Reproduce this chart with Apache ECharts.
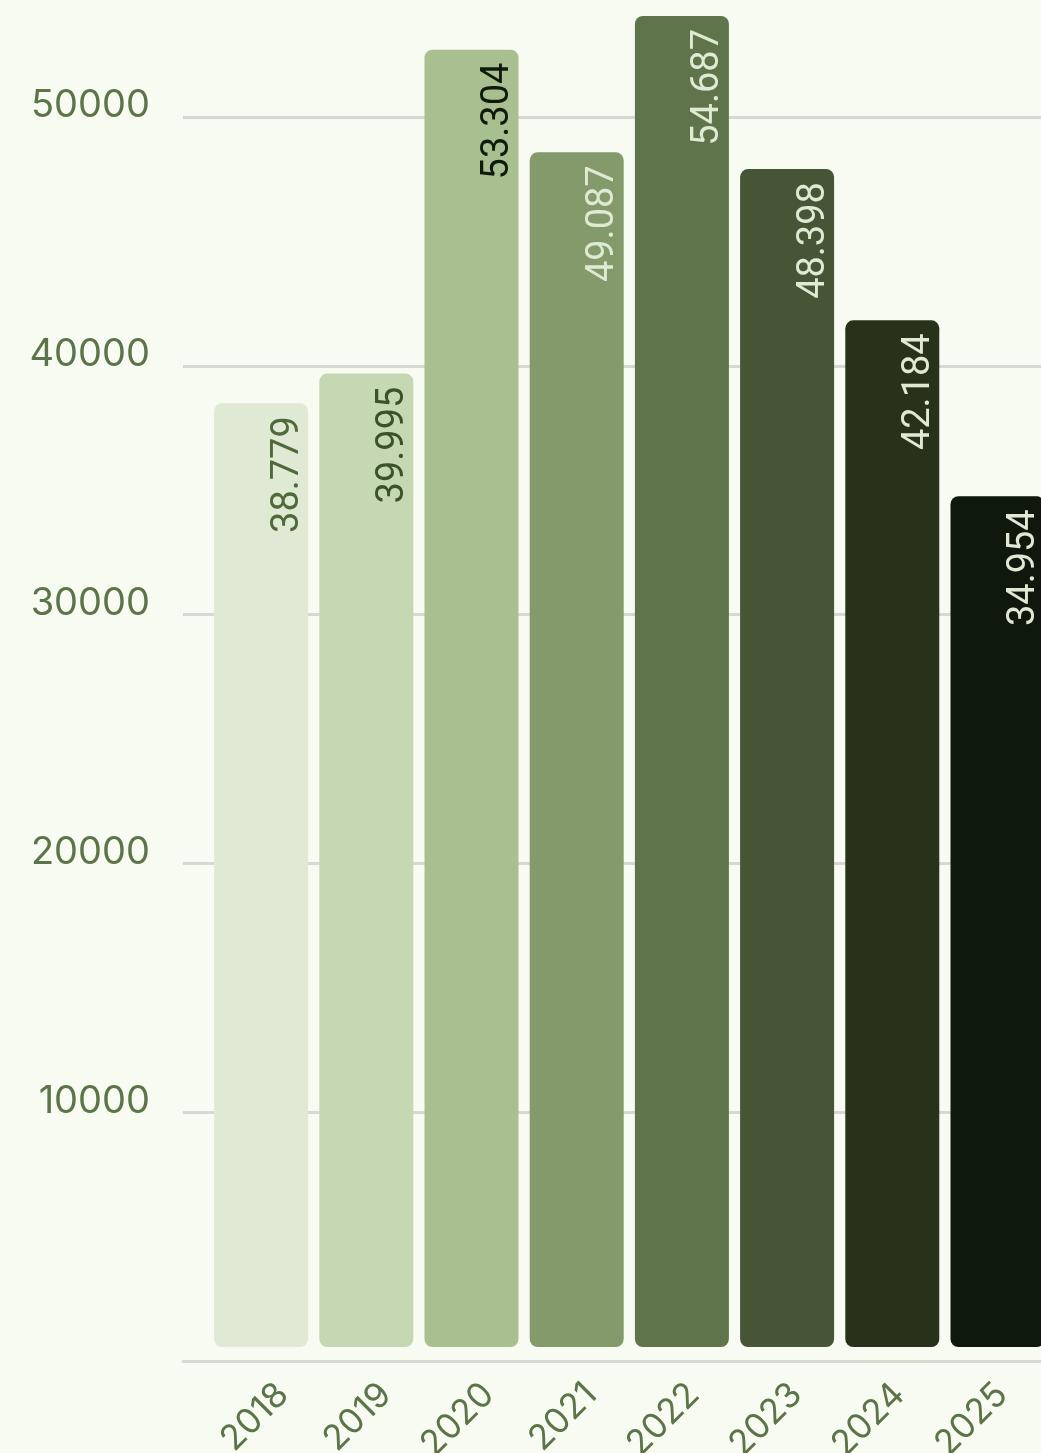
<!DOCTYPE html>
<html>
<head>
<meta charset="utf-8">
<script src="https://cdn.jsdelivr.net/npm/echarts@6/dist/echarts.min.js"></script>
<style>
html,body{margin:0;padding:0;background:#f8fbf2;}
#c{width:1041px;height:1453px;}
</style>
</head>
<body>
<div id="c"></div>
<script>
var categories = ['2018','2019','2020','2021','2022','2023','2024','2025'];
var values = [38779, 39995, 53304, 49087, 54687, 48398, 42184, 34954];
var yTicks = [10000, 20000, 30000, 40000, 50000];

var barColors = ['#dfe9d3','#c6d7b3','#a8bf90','#839b6b','#5f744a','#475537','#28321b','#0e180c'];
var labelColors = ['#4f6a3a','#3b5228','#0f1a0d','#dfe9d3','#dfe9d3','#dfe9d3','#dfe9d3','#dfe9d3'];

function fmt(v){ return String(v).replace(/\B(?=(\d{3})+(?!\d))/g, '.'); }

var chart = echarts.init(document.getElementById('c'), null, {renderer:'canvas'});
var axisColor = '#5b7548';
var option = {
  backgroundColor: '#f8fbf2',
  animation: false,
  grid: [
    {left:183, right:0, top:0, bottom:92, outerBoundsMode:'none', containLabel:false},
    {left:208.5, width:841.6, top:16, bottom:106, outerBoundsMode:'none', containLabel:false},
    {left:231.6, width:821.6, top:0, bottom:92, outerBoundsMode:'none', containLabel:false}
  ],
  xAxis: [
    {gridIndex:0, type:'category', data:categories, axisLine:{show:true, lineStyle:{color:'#d6d9d1', width:3}}, axisTick:{show:false}, axisLabel:{show:false}, splitLine:{show:false}},
    {gridIndex:1, type:'category', data:categories, axisLine:{show:false}, axisTick:{show:false}, axisLabel:{show:false}},
    {gridIndex:2, type:'category', data:categories, axisLine:{show:false}, axisTick:{show:false},
     axisLabel:{show:true, rotate:45, margin:28, color:axisColor, fontFamily:'Inter', fontSize:35, interval:0}}
  ],
  yAxis: [
    {gridIndex:0, type:'value', min:0, max:54700, interval:10000,
     axisLine:{show:false}, axisTick:{show:false},
     axisLabel:{show:true, margin:33, color:axisColor, fontFamily:'Inter', fontSize:38, showMinLabel:false, showMaxLabel:false,
       verticalAlign:'bottom', lineHeight:22,
       formatter:function(v){ return yTicks.indexOf(v) >= 0 ? String(v) : ''; }},
     splitLine:{show:true, showMinLine:false, showMaxLine:false, lineStyle:{color:'#d6d9d1', width:3}}},
    {gridIndex:1, type:'value', min:0, max:54687, show:false, splitLine:{show:false}},
    {gridIndex:2, type:'value', show:false, splitLine:{show:false}}
  ],
  series: [{
    type:'bar',
    xAxisIndex:1, yAxisIndex:1,
    barWidth:94,
    data: values.map(function(v,i){
      return {value:v, itemStyle:{color:barColors[i], borderRadius:8},
        label:{color:labelColors[i]}};
    }),
    label:{
      show:true, position:'insideTop', distance:13, rotate:90,
      align:'right', verticalAlign:'top', padding:[8,0,0,0],
      fontFamily:'Roboto', fontSize:38,
      formatter:function(p){ return fmt(p.value); }
    }
  }]
};
chart.setOption(option);
</script>
</body>
</html>
